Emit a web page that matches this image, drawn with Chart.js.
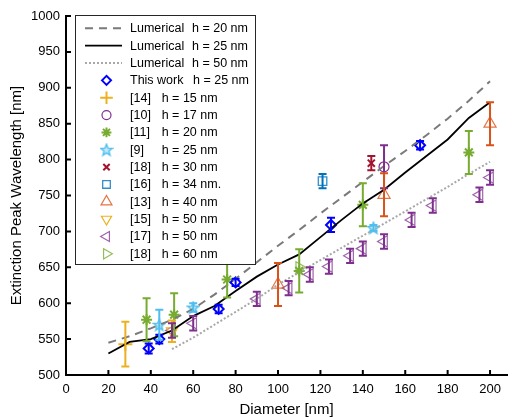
<!DOCTYPE html>
<html><head><meta charset="utf-8">
<script src="https://cdn.jsdelivr.net/npm/chart.js@4/dist/chart.umd.min.js"></script>
<style>html,body{margin:0;padding:0;background:#fff;}</style>
</head><body>
<canvas id="c" width="516" height="417"></canvas>
<script>
// ---- Data ----
const lumD   = [20,30,40,50,60,70,80,90,100,110,120,130,140,150,160,170,180,190,200];
const lum20  = [545,554,565,577,592,612,634,657,680,702,725,747,769,791,812,834,857,882,909];
const lum25  = [530,546,550,562,582,596,617,637,654,668,692,716,739,758,782,805,828,858,880];
const lum50D = [50,60,70,80,90,100,110,120,130,140,150,160,170,180,190,200];
const lum50  = [536,552,570,588,606,626,643,660,677,694,711,728,745,762,780,797];

const thisD = [39,44,72,80,125,167];
const thisL = [537,550,592,629,709,820];
const thisE = [7,6,6,5,10,6];

const r14D = [28];  const r14L = [543]; const r14E = [31];
const r10D = [150]; const r10L = [790]; const r10E = [30];
const r11D = [38,51,76,110,140,190];
const r11L = [577,584,633,645,737,810];
const r11E = [30,30,25,30,30,30];
const r9D  = [44,60,145]; const r9L = [570,594,705]; const r9E = [21,6,4];
const r18aD = [144]; const r18aL = [795]; const r18aE = [10];
const r16D = [121]; const r16L = [770]; const r16E = [10];
const r13D = [100,150,200]; const r13L = [626,751,850]; const r13E = [30,30,30];
const r15D = [50]; const r15L = [561]; const r15E = [15];
const r17D = [50,60,90,105,115,124,134,140,150,163,173,195,200];
const r17L = [562,572,606,621,640,651,666,676,686,716,736,751,775];
const r17E = [10,10,10,10,10,10,10,10,10,10,10,10,10];
const r18bD = [110]; const r18bL = [650]; const r18bE = [0];

const xTickValues = [0,20,40,60,80,100,120,140,160,180,200];
const yTickValues = [500,550,600,650,700,750,800,850,900,950,1000];

function pts(xs, ys){ return xs.map((x,i)=>({x:x, y:ys[i]})); }

// pentagram marker
function makeStar(color){
  const c=document.createElement('canvas'); c.width=14; c.height=14;
  const g=c.getContext('2d'); g.beginPath();
  for(let k=0;k<10;k++){
    const r = k%2===0 ? 6 : 2.6;
    const a = -Math.PI/2 + k*Math.PI/5;
    const px=7+r*Math.cos(a), py=7.5+r*Math.sin(a);
    if(k===0) g.moveTo(px,py); else g.lineTo(px,py);
  }
  g.closePath(); g.fillStyle='rgba(77,190,238,0.35)'; g.fill();
  g.strokeStyle=color; g.lineWidth=1.4; g.stroke();
  return c;
}
const starImg = makeStar('#4DBEEE');

function markerSet(label, b, xs, ys, es, style, color, barColor, radius, bw, rot){
  return {type:'scatter', label:label, legB:b, data:pts(xs,ys), errs:es,
    pointStyle:style, pointRotation:rot||0, pointRadius:radius, pointHoverRadius:radius,
    borderColor:color, backgroundColor:'rgba(0,0,0,0)', pointBorderWidth:bw, borderWidth:bw,
    barColor:barColor, showLine:false};
}

const datasets = [
  {type:'scatter', label:'Lumerical', legB:'h = 20 nm', bx:192, isLine:true, data:pts(lumD,lum20), showLine:true,
    borderColor:'#7a7a7a', borderWidth:2, borderDash:[8,6], pointRadius:0, fill:false},
  {type:'scatter', label:'Lumerical', legB:'h = 25 nm', bx:192, isLine:true, data:pts(lumD,lum25), showLine:true,
    borderColor:'#000000', borderWidth:1.8, pointRadius:0, fill:false},
  {type:'scatter', label:'Lumerical', legB:'h = 50 nm', bx:192, isLine:true, data:pts(lum50D,lum50), showLine:true,
    borderColor:'#a8a8a8', borderWidth:2, borderDash:[2,2], pointRadius:0, fill:false},
  Object.assign(markerSet('This work','h = 25 nm',thisD,thisL,thisE,'rectRot','#0000FF','#0000FF',5,2),{bx:193}),
  markerSet('[14]','h = 15 nm',r14D,r14L,r14E,'cross','#EDB120','#EDB120',7,2),
  markerSet('[10]','h = 17 nm',r10D,r10L,r10E,'circle','#7E2F8E','#7E2F8E',5,1.2),
  markerSet('[11]','h = 20 nm',r11D,r11L,r11E,'star','#77AC30','#77AC30',5.5,2),
  markerSet('[9]','h = 25 nm',r9D,r9L,r9E,starImg,'#4DBEEE','#4DBEEE',6,1.4),
  markerSet('[18]','h = 30 nm',r18aD,r18aL,r18aE,'crossRot','#A2142F','#A2142F',5,2),
  markerSet('[16]','h = 34 nm.',r16D,r16L,r16E,'rect','rgba(0,114,189,0.8)','#0072BD',6,1.3),
  markerSet('[13]','h = 40 nm',r13D,r13L,r13E,'triangle','rgba(217,83,25,0.8)','#D95319',7,1.2),
  markerSet('[15]','h = 50 nm',r15D,r15L,r15E,'triangle','#EDB120','#EDB120',6.5,1.2,180),
  markerSet('[17]','h = 50 nm',r17D,r17L,r17E,'triangle','rgba(126,47,142,0.75)','#7E2F8E',6.5,1.2,-90),
  markerSet('[18]','h = 60 nm',r18bD,r18bL,r18bE,'triangle','rgba(119,172,48,0.8)','#77AC30',6.5,1.2,90),
];

const errorBars = {
  id:'errorBars',
  afterDatasetsDraw(chart){
    const ctx=chart.ctx, xs=chart.scales.x, ys=chart.scales.y;
    chart.data.datasets.forEach(ds=>{
      if(!ds.errs) return;
      ctx.save(); ctx.strokeStyle=ds.barColor; ctx.lineWidth=2;
      ds.data.forEach((p,j)=>{
        const e=ds.errs[j]; if(!e) return;
        const x=xs.getPixelForValue(p.x);
        const y1=ys.getPixelForValue(p.y+e), y2=ys.getPixelForValue(p.y-e);
        ctx.beginPath();
        ctx.moveTo(x,y1); ctx.lineTo(x,y2);
        ctx.moveTo(x-4,y1); ctx.lineTo(x+4,y1);
        ctx.moveTo(x-4,y2); ctx.lineTo(x+4,y2);
        ctx.stroke();
      });
      ctx.restore();
    });
  }
};

const inTicks = {
  id:'inTicks',
  afterDraw(chart){
    const ctx=chart.ctx, xs=chart.scales.x, ys=chart.scales.y, a=chart.chartArea;
    ctx.save(); ctx.strokeStyle='#000'; ctx.lineWidth=2; ctx.beginPath();
    xs.ticks.forEach(t=>{ const x=xs.getPixelForValue(t.value); ctx.moveTo(x,a.bottom); ctx.lineTo(x,a.bottom-5); });
    ys.ticks.forEach(t=>{ const y=ys.getPixelForValue(t.value); ctx.moveTo(a.left,y); ctx.lineTo(a.left+5,y); });
    ctx.stroke(); ctx.restore();
  }
};

const boxLegend = {
  id:'boxLegend',
  afterDraw(chart){
    const ctx=chart.ctx;
    const L=75, T=15, R=255, B=264, row0=28.3, dy=17.35;
    ctx.save();
    ctx.fillStyle='#fff'; ctx.fillRect(L,T,R-L,B-T);
    ctx.strokeStyle='#262626'; ctx.lineWidth=1; ctx.strokeRect(L+0.5,T+0.5,R-L,B-T);
    ctx.font='12.5px "Liberation Sans", Arial, sans-serif';
    ctx.textBaseline='middle';
    chart.data.datasets.forEach((ds,i)=>{
      const y=row0+i*dy;
      if(ds.isLine){
        ctx.save(); ctx.strokeStyle=ds.borderColor; ctx.lineWidth=ds.borderWidth;
        ctx.setLineDash(ds.borderDash||[]); ctx.beginPath(); ctx.moveTo(85,y); ctx.lineTo(122,y); ctx.stroke(); ctx.restore();
      } else {
        ctx.save(); ctx.strokeStyle=ds.borderColor; ctx.fillStyle='rgba(0,0,0,0)'; ctx.lineWidth=ds.pointBorderWidth;
        Chart.helpers.drawPoint(ctx,{pointStyle:ds.pointStyle, rotation:ds.pointRotation, radius:ds.pointRadius*0.9, borderWidth:ds.pointBorderWidth},106.5,y);
        ctx.restore();
      }
      ctx.fillStyle='#000';
      ctx.fillText(ds.label,130,y+0.5);
      ctx.fillText(ds.legB, ds.bx||161.7, y+0.5);
    });
    ctx.restore();
  }
};

new Chart(document.getElementById('c'),{
  type:'scatter',
  data:{datasets:datasets},
  plugins:[errorBars,inTicks,boxLegend],
  options:{
    responsive:false, animation:false, devicePixelRatio:1,
    layout:{padding:{top:16,right:0,left:0,bottom:0}},
    plugins:{legend:{display:false}, tooltip:{enabled:false}},
    scales:{
      x:{type:'linear', min:0, max:208,
        ticks:{color:'#000', padding:7, autoSkip:false, maxRotation:0, callback:v=>String(v), font:{size:13,family:'"Liberation Sans", Arial, sans-serif'}},
        afterBuildTicks:s=>{ s.ticks=xTickValues.map(v=>({value:v})); },
        afterFit:s=>{ s.height=42; },
        grid:{display:true, drawOnChartArea:false, drawTicks:false},
        border:{display:true,color:'#000',width:2},
        title:{display:true,text:'Diameter [nm]',color:'#000',padding:{top:0,bottom:-2},font:{size:15,family:'"Liberation Sans", Arial, sans-serif'}}
      },
      y:{type:'linear', min:500, max:1000,
        ticks:{color:'#000', padding:6, autoSkip:false, callback:v=>String(v), font:{size:13,family:'"Liberation Sans", Arial, sans-serif'}},
        afterBuildTicks:s=>{ s.ticks=yTickValues.map(v=>({value:v})); },
        afterFit:s=>{ s.width=66; },
        grid:{display:true, drawOnChartArea:false, drawTicks:false},
        border:{display:true,color:'#000',width:2},
        title:{display:true,text:'Extinction Peak Wavelength [nm]',color:'#000',padding:{top:8,bottom:0},font:{size:15,family:'"Liberation Sans", Arial, sans-serif'}}
      }
    }
  }
});
</script>
</body></html>
